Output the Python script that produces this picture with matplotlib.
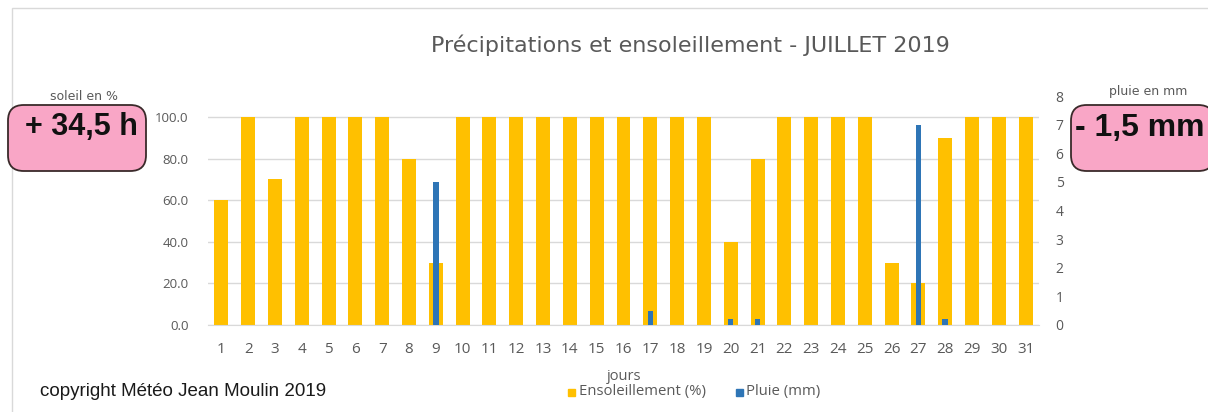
import matplotlib
matplotlib.use("Agg")
import matplotlib.pyplot as plt
from matplotlib.patches import FancyBboxPatch, Rectangle
import numpy as np

days = list(range(1, 32))
sun_pct = [60, 100, 70, 100, 100, 100, 100, 80, 30, 100,
           100, 100, 100, 100, 100, 100, 100, 100, 100, 40,
           80, 100, 100, 100, 100, 30, 20, 90, 100, 100, 100]
rain_mm = [0, 0, 0, 0, 0, 0, 0, 0, 5.0, 0,
           0, 0, 0, 0, 0, 0, 0.5, 0, 0, 0.2,
           0.2, 0, 0, 0, 0, 0, 7.0, 0.2, 0, 0, 0]
left_ticks = [0, 20, 40, 60, 80, 100]
right_ticks = list(range(0, 9))

title = "Précipitations et ensoleillement - JUILLET 2019"
sun_color = "#FFC000"
rain_color = "#2E75B6"
gray = "#595959"

W, H = 1208, 412
fig = plt.figure(figsize=(W / 100, H / 100), dpi=100)
fig.patch.set_facecolor("white")

# chart frame
fig.add_artist(Rectangle((12 / W, -0.05), 1.1, 1 - 8 / H + 0.05, transform=fig.transFigure,
                         fill=False, edgecolor="#D9D9D9", linewidth=1))

ax_l, ax_r = 208 / W, 1039 / W
ax_b, ax_t = 1 - 325 / H, 1 - 96 / H
ax = fig.add_axes([ax_l, ax_b, ax_r - ax_l, ax_t - ax_b])
ax.bar(days, sun_pct, width=0.52, color=sun_color, zorder=2)
ax.set_xlim(0.5, 31.5)
ax.set_ylim(0, 100 * (325 - 96) / (325 - 117))
ax.set_yticks(left_ticks)
ax.set_yticklabels([f"{v:.1f}" for v in left_ticks])
ax.set_xticks(days)
ax.set_xticklabels([str(d) for d in days])
ax.yaxis.grid(True, color="#D9D9D9", linewidth=1, zorder=0)
ax.set_axisbelow(True)
for s in ["top", "left", "right"]:
    ax.spines[s].set_visible(False)
ax.spines["bottom"].set_color("#D9D9D9")
ax.tick_params(axis="both", length=0, colors=gray)
ax.tick_params(axis="y", labelsize=9.5, pad=14)
ax.tick_params(axis="x", labelsize=11, pad=12)
for lbl in ax.get_xticklabels() + ax.get_yticklabels():
    lbl.set_fontfamily("Open Sans")

ax2 = ax.twinx()
ax2.bar(days, rain_mm, width=0.2, color=rain_color, zorder=3)
ax2.set_ylim(0, 8)
ax2.set_yticks(right_ticks)
for s in ["top", "left", "right", "bottom"]:
    ax2.spines[s].set_visible(False)
ax2.tick_params(axis="y", length=0, colors=gray, labelsize=10, pad=12)
for lbl in ax2.get_yticklabels():
    lbl.set_fontfamily("Open Sans")

# title
fig.text(690 / W, 1 - 45 / H, title, ha="center", va="center", fontsize=16,
         color=gray, family=["Liberation Sans Narrow", "DejaVu Sans"])

# axis label + legend
fig.text(624 / W, 1 - 377 / H, "jours", ha="center", va="center", fontsize=10.5,
         color=gray, family="Open Sans")
fig.add_artist(Rectangle((568 / W, 1 - 396 / H), 7 / W, 7 / H, transform=fig.transFigure,
                         color=sun_color))
fig.text(579 / W, 1 - 392 / H, "Ensoleillement (%)", ha="left", va="center", fontsize=10.7,
         color=gray, family="Open Sans")
fig.add_artist(Rectangle((736 / W, 1 - 396 / H), 7 / W, 7 / H, transform=fig.transFigure,
                         color=rain_color))
fig.text(746 / W, 1 - 392 / H, "Pluie (mm)", ha="left", va="center", fontsize=10.7,
         color=gray, family="Open Sans")

# copyright
fig.text(40 / W, 1 - 392 / H, "copyright Météo Jean Moulin 2019", ha="left", va="center",
         fontsize=13.5, color="#1a1a1a", family="Liberation Sans")

# pink boxes
def pink_box(x0, y0, x1, y1):
    p = FancyBboxPatch((x0 / W, 1 - y1 / H), (x1 - x0) / W, (y1 - y0) / H,
                       boxstyle="round,pad=0,rounding_size=0.013",
                       transform=fig.transFigure, facecolor="#F9A6C6",
                       edgecolor="#3a2a2a", linewidth=1.3, mutation_aspect=W / H)
    fig.add_artist(p)

pink_box(8, 105, 146, 171)
fig.text(81 / W, 1 - 127 / H, "+ 34,5 h", ha="center", va="center", fontsize=22,
         fontweight="bold", color="#111111", family="Liberation Sans")
fig.text(84 / W, 1 - 96 / H, "soleil en %", ha="center", va="center", fontsize=9,
         color=gray, family=["Liberation Sans Narrow", "DejaVu Sans"])

pink_box(1071, 105, 1214, 171)
fig.text(1075 / W, 1 - 128 / H, "- 1,5 mm", ha="left", va="center", fontsize=23,
         fontweight="bold", color="#111111", family="Liberation Sans")
fig.text(1148 / W, 1 - 91 / H, "pluie en mm", ha="center", va="center", fontsize=9,
         color=gray, family=["Liberation Sans Narrow", "DejaVu Sans"])

fig.savefig("out.png", dpi=100, facecolor="white")
